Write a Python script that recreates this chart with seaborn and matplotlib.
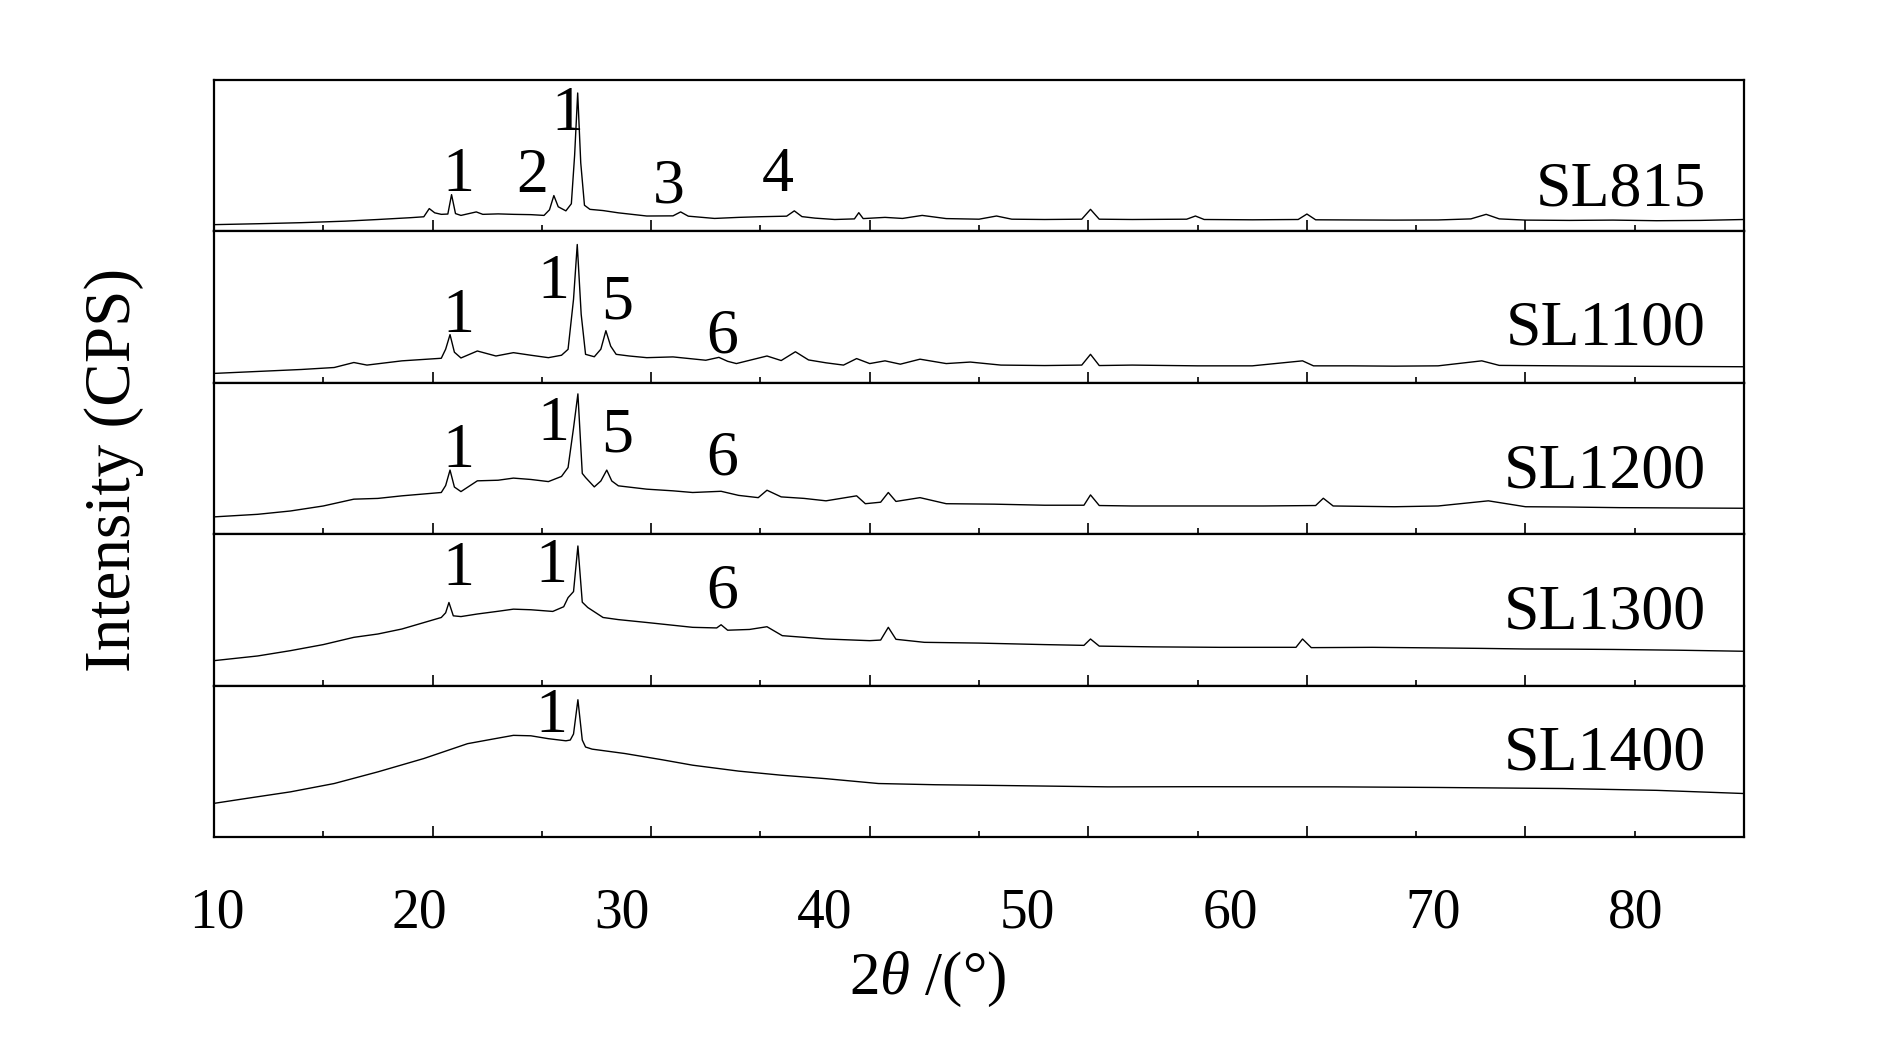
import numpy as np
import pandas as pd
import matplotlib
matplotlib.use("Agg")
import matplotlib.pyplot as plt
import matplotlib.transforms as mtransforms
import seaborn as sns

# ---------------- data ----------------
samples = ["SL815", "SL1100", "SL1200", "SL1300", "SL1400"]

tt_SL815 = [10, 12, 14, 16, 17.5, 19, 19.6, 19.85, 20.1, 20.4, 20.7, 20.87, 21.05, 21.3, 22.0, 22.3,
            23.0, 23.7, 24.5, 25.1, 25.35, 25.55, 25.75, 26.1, 26.35, 26.5, 26.64, 26.78, 26.95, 27.2,
            27.8, 28.5, 29.8, 31.0, 31.35, 31.7, 32.9, 34.0, 34.9, 36.2, 36.55, 36.9, 37.5, 38.4, 39.3,
            39.5, 39.7, 40.7, 41.5, 42.4, 43.5, 45.0, 45.8, 46.5, 48.0, 49.7, 50.1, 50.5, 52.0, 54.5,
            54.9, 55.3, 57.5, 59.6, 60.0, 60.4, 62.0, 64.0, 66.0, 67.5, 68.2, 68.8, 70.0, 72.0, 74.0,
            76.0, 78.0, 80.0]
I_SL815 = [4.2, 4.8, 5.5, 6.5, 7.6, 8.8, 9.4, 14.8, 12.0, 11.0, 11.2, 24.0, 11.5, 10.3, 12.6, 11.0,
           11.3, 11.0, 10.8, 10.3, 14.0, 23.4, 16.0, 13.3, 18.0, 50.0, 91.1, 45.0, 17.0, 14.3,
           13.5, 12.0, 9.9, 10.0, 12.6, 9.8, 8.3, 9.0, 9.4, 9.8, 13.3, 9.5, 8.5, 7.6, 8.0,
           12.1, 8.2, 9.0, 8.3, 10.3, 8.2, 7.8, 9.9, 7.8, 7.6, 7.8, 14.3, 7.8, 7.6, 7.8,
           9.9, 7.6, 7.4, 7.6, 11.2, 7.4, 7.3, 7.2, 7.3, 8.0, 11.0, 8.0, 7.2, 7.0, 7.2,
           6.8, 7.0, 7.6]

tt_SL1100 = [10, 12, 14, 15.5, 16.4, 17.0, 18.6, 20.4, 20.6, 20.8, 21.0, 21.3, 22.05, 22.9, 23.7,
             24.5, 25.3, 25.9, 26.2, 26.45, 26.62, 26.8, 27.0, 27.4, 27.7, 27.93, 28.15, 28.4, 29.0,
             29.8, 31.0, 32.5, 33.1, 33.5, 33.9, 35.3, 35.95, 36.6, 37.2, 38.0, 38.8, 39.4, 40.0,
             40.7, 41.4, 42.3, 43.5, 44.6, 46.0, 48.0, 49.7, 50.1, 50.5, 52.0, 55.0, 57.5, 59.8,
             60.3, 62.0, 64.0, 66.0, 68.0, 68.8, 71.7, 74.0, 77.0, 80.0]
I_SL1100 = [6.0, 7.3, 8.6, 9.9, 13.2, 11.5, 14.3, 16.0, 22.0, 31.6, 20.0, 16.2, 20.8, 17.5, 19.7,
            18.0, 16.4, 18.0, 21.9, 55.0, 91.1, 45.0, 18.6, 17.0, 22.0, 34.2, 24.0, 18.6, 17.5,
            16.4, 16.9, 14.7, 16.6, 14.0, 12.5, 17.5, 14.5, 20.3, 14.9, 13.0, 11.5, 15.8, 12.5,
            14.3, 12.1, 15.4, 12.5, 13.5, 11.5, 11.2, 11.5, 18.6, 11.2, 11.5, 11.0, 11.0, 14.3,
            11.0, 11.0, 10.8, 11.0, 14.3, 11.3, 11.0, 10.8, 10.6, 10.4]

tt_SL1200 = [10, 12, 13.5, 15.0, 16.4, 17.5, 18.6, 20.4, 20.6, 20.8, 21.0, 21.3, 22.05, 23.0, 23.7,
             24.5, 25.3, 25.9, 26.2, 26.45, 26.65, 26.85, 27.0, 27.4, 27.7, 27.97, 28.2, 28.5, 29.8,
             31.0, 31.9, 33.2, 34.0, 34.9, 35.3, 35.95, 37.0, 38.0, 39.4, 39.8, 40.5, 40.85, 41.2,
             42.3, 43.5, 45.7, 48.0, 49.8, 50.1, 50.5, 52.0, 55.0, 58.0, 60.4, 60.75, 61.2, 64.0,
             66.0, 68.3, 70.0, 72.0, 74.3, 77.0, 80.0]
I_SL1200 = [11.3, 13.0, 15.2, 18.5, 23.0, 23.5, 25.2, 27.4, 32.0, 42.2, 31.0, 28.0, 35.1, 35.5, 36.9,
            36.0, 34.6, 38.0, 43.9, 70.0, 92.5, 40.0, 37.3, 31.1, 35.0, 42.2, 35.0, 31.8, 29.6,
            28.5, 27.4, 28.2, 25.5, 24.0, 28.9, 24.5, 23.5, 21.9, 25.2, 20.0, 21.0, 27.4, 21.5,
            24.0, 20.0, 19.7, 19.0, 19.0, 25.8, 18.8, 18.5, 18.5, 18.5, 18.8, 23.6, 18.5, 18.0,
            18.5, 21.9, 18.0, 17.8, 17.4, 17.2, 17.0]

tt_SL1300 = [10, 12, 13.5, 15.0, 16.4, 17.5, 18.6, 20.4, 20.6, 20.75, 20.95, 21.3, 22.05, 23.0, 23.7,
             24.5, 25.5, 26.0, 26.2, 26.45, 26.65, 26.85, 27.1, 27.8, 28.5, 29.8, 31.9, 33.0, 33.2,
             33.5, 34.5, 35.3, 36.0, 38.0, 40.0, 40.5, 40.85, 41.2, 42.5, 45.0, 48.0, 49.8, 50.1,
             50.5, 53.0, 56.0, 59.5, 59.8, 60.2, 63.0, 66.0, 68.0, 70.0, 72.0, 74.0, 77.0, 80.0]
I_SL1300 = [16.4, 19.5, 23.0, 27.0, 31.8, 34.0, 37.3, 44.9, 48.0, 54.8, 46.0, 45.5, 47.2, 49.0, 50.4,
            50.0, 48.9, 52.0, 58.0, 62.0, 92.1, 55.0, 51.5, 44.9, 43.5, 41.6, 38.4, 38.0, 40.1,
            36.5, 37.0, 38.8, 32.9, 30.7, 29.6, 30.0, 38.4, 30.5, 28.5, 28.0, 27.0, 26.5, 30.7,
            26.0, 25.5, 25.2, 25.2, 30.7, 25.0, 25.2, 24.8, 24.5, 24.1, 24.0, 23.8, 23.3, 22.6]

tt_SL1400 = [10, 11.5, 13.5, 15.5, 17.5, 19.6, 21.6, 22.7, 23.7, 24.5, 25.3, 26.1, 26.3, 26.45,
             26.65, 26.85, 27.0, 27.3, 28.8, 30.5, 31.9, 34.0, 35.95, 38.0, 40.4, 43.0, 46.0, 50.9,
             55.0, 61.3, 66.0, 71.7, 76.0, 80.0]
I_SL1400 = [22.2, 25.5, 29.8, 35.3, 43.0, 51.8, 61.6, 64.5, 67.1, 66.8, 64.9, 63.5, 64.0, 68.0,
            90.6, 64.0, 59.4, 58.0, 55.1, 51.0, 47.4, 43.5, 40.8, 38.5, 35.3, 34.5, 34.0, 33.1,
            33.2, 33.1, 32.7, 32.0, 30.8, 28.7]

two_theta = [tt_SL815, tt_SL1100, tt_SL1200, tt_SL1300, tt_SL1400]
intensity = [I_SL815, I_SL1100, I_SL1200, I_SL1300, I_SL1400]

# peak-number annotations per panel: (label, 2theta, baseline height as panel fraction)
peak_labels = [
    [("1", 21.17, 0.263), ("2", 24.54, 0.256), ("1", 26.18, 0.667), ("3", 30.8, 0.189), ("4", 35.8, 0.261)],
    [("1", 21.17, 0.331), ("1", 25.52, 0.558), ("5", 28.45, 0.422), ("6", 33.23, 0.195)],
    [("1", 21.17, 0.444), ("1", 25.52, 0.623), ("5", 28.45, 0.543), ("6", 33.23, 0.391)],
    [("1", 21.17, 0.664), ("1", 25.42, 0.684), ("6", 33.23, 0.513)],
    [("1", 25.42, 0.691)],
]
sample_label_base = [0.168, 0.253, 0.305, 0.375, 0.447]

x_tick_labels = [10, 20, 30, 40, 50, 60, 70, 80]

# ---------------- style ----------------
sns.set_theme(style="ticks")
plt.rcParams["font.family"] = ["Liberation Serif", "DejaVu Serif"]
plt.rcParams["mathtext.fontset"] = "custom"
plt.rcParams["mathtext.rm"] = "Liberation Serif"
plt.rcParams["mathtext.it"] = "Liberation Serif:italic"
plt.rcParams["text.color"] = "black"
plt.rcParams["axes.labelcolor"] = "black"
plt.rcParams["xtick.color"] = "black"
plt.rcParams["ytick.color"] = "black"
plt.rcParams["axes.edgecolor"] = "black"

fig = plt.figure(figsize=(18.9, 10.63), dpi=100)
gs = fig.add_gridspec(5, 1, left=0.1132, right=0.9228, top=0.9252, bottom=0.2126, hspace=0)
axes = [fig.add_subplot(gs[i]) for i in range(5)]

for i, ax in enumerate(axes):
    df = pd.DataFrame({"2theta": two_theta[i], "I": intensity[i]})
    sns.lineplot(data=df, x="2theta", y="I", ax=ax, color="black", linewidth=1.0,
                 estimator=None, sort=False)
    ax.set_xlim(10, 80)
    ax.set_ylim(0, 100)
    ax.set_yticks([])
    ax.set_xlabel("")
    ax.set_ylabel("")
    ax.set_xticks(range(10, 81, 10))
    ax.set_xticks(range(15, 80, 10), minor=True)
    ax.tick_params(axis="x", which="major", direction="in", length=8, width=1.2,
                   bottom=True, top=False, labelbottom=False, color="black")
    ax.tick_params(axis="x", which="minor", direction="in", length=4, width=1.2,
                   bottom=True, top=False, color="black")
    ax.tick_params(axis="y", left=False, right=False)
    for s in ax.spines.values():
        s.set_linewidth(1.6)
        s.set_color("black")
    trans = mtransforms.blended_transform_factory(ax.transData, ax.transAxes)
    for lab, xp, yb in peak_labels[i]:
        ax.text(xp, yb, lab, transform=trans, ha="center", va="baseline", fontsize=46,
                color="black")
    ax.text(78.25, sample_label_base[i], samples[i], transform=trans, ha="right",
            va="baseline", fontsize=46, color="black")

# tick labels of the reference sit on their own scale below the bottom panel
f_fwd = lambda x: 10 + (np.asarray(x, dtype=float) - 10.14) / 0.9273
f_inv = lambda L: 10.14 + (np.asarray(L, dtype=float) - 10) * 0.9273
sec = axes[-1].secondary_xaxis("bottom", functions=(f_fwd, f_inv))
sec.set_xticks(x_tick_labels)
sec.tick_params(length=0, pad=36, labelsize=40, labelcolor="black")
sec.spines["bottom"].set_visible(False)

fig.text(0.491, 0.079, r"2$\it{\theta}$ /(°)", ha="center", va="center", fontsize=44,
         color="black")
fig.text(0.0606, 0.558, "Intensity (CPS)", rotation=90, ha="center", va="center",
         fontsize=47, color="black")

fig.savefig("out.png", dpi=100, facecolor="white")
